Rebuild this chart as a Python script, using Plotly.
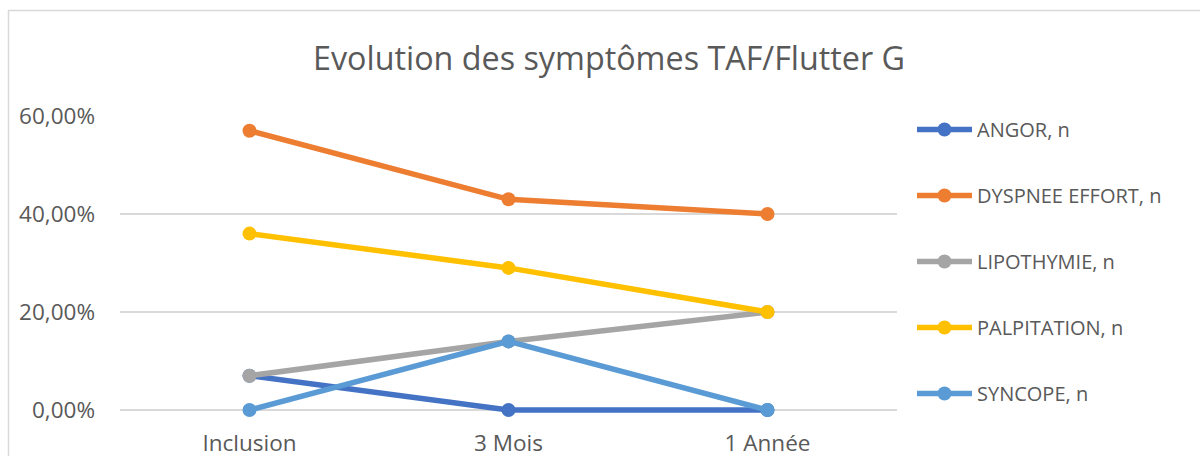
import plotly.graph_objects as go

categories = ["Inclusion", "3 Mois", "1 Année"]
series_names = ["ANGOR, n", "DYSPNEE EFFORT, n", "LIPOTHYMIE, n", "PALPITATION, n", "SYNCOPE, n"]
angor = [0.07, 0.0, 0.0]
dyspnee = [0.57, 0.43, 0.40]
lipothymie = [0.07, 0.14, 0.20]
palpitation = [0.36, 0.29, 0.20]
syncope = [0.0, 0.14, 0.0]
colors = ["#4472C4", "#ED7D31", "#A5A5A5", "#FFC000", "#5B9BD5"]
tick_vals = [0, 0.2, 0.4, 0.6]
tick_text = ["0,00%", "20,00%", "40,00%", "60,00%"]
title_text = "Evolution des symptômes TAF/Flutter G"

FONT = "Open Sans"
TXT = "#595959"

fig = go.Figure()
for i, (name, vals) in enumerate(zip(series_names, [angor, dyspnee, lipothymie, palpitation, syncope])):
    fig.add_trace(go.Scatter(
        x=categories, y=vals, name=name, mode="lines+markers",
        line=dict(color=colors[i], width=5.5),
        marker=dict(color=colors[i], size=14),
        legendgroup=name, cliponaxis=False,
    ))

# pixel geometry: value 0 at y=410, 0.6 at y=116; plot area extended 10 px below zero
L, R, T, Y0 = 120, 897, 116, 410
EXT = 10
B = Y0 + EXT
W, H = 1200, 456
pw, ph = R - L, B - T
ymax = 0.6
ymin = -ymax * EXT / (Y0 - T)

def px_x(x):
    return (x - L) / pw

def px_y(y):
    return (B - y) / ph

fig.update_layout(
    width=W, height=H,
    margin=dict(l=L, r=W - R, t=T, b=H - B, autoexpand=False),
    paper_bgcolor="white", plot_bgcolor="white",
    font=dict(family=FONT, color=TXT, size=18),
    showlegend=True,
    legend=dict(
        x=px_x(912), y=1 - 110 / H, xanchor="left", yanchor="top", yref="container",
        font=dict(size=20, color=TXT, family=FONT),
        tracegroupgap=37, itemwidth=55, maxheight=1,
        bgcolor="rgba(0,0,0,0)",
    ),
    annotations=[dict(
        text=title_text, xref="paper", yref="paper",
        x=px_x(609), y=px_y(57), xanchor="center", yanchor="middle",
        showarrow=False, font=dict(size=32.3, color=TXT, family=FONT),
    )],
    shapes=[dict(
        type="rect", xref="paper", yref="paper",
        x0=px_x(8.5), x1=px_x(1230), y0=px_y(10.5), y1=px_y(500),
        line=dict(color="#D9D9D9", width=1.5), layer="below",
    )],
)
fig.update_xaxes(
    type="category", range=[-0.5, 2.5], showgrid=False, zeroline=False,
    showline=False, ticks="", tickfont=dict(size=22.5, color=TXT, family=FONT),
    ticklabelstandoff=7,
)
fig.update_yaxes(
    range=[ymin, ymax], tickvals=tick_vals, ticktext=tick_text,
    showgrid=True, gridcolor="#D9D9D9", gridwidth=1.5, zeroline=False,
    showline=False, ticks="", tickfont=dict(size=22.5, color=TXT, family=FONT),
    ticklabelstandoff=24,
)
fig.write_html(
    "out.html",
    config={"displayModeBar": False},
    post_script="document.body.style.margin='0';document.body.style.padding='0';document.body.style.overflow='hidden';",
)
